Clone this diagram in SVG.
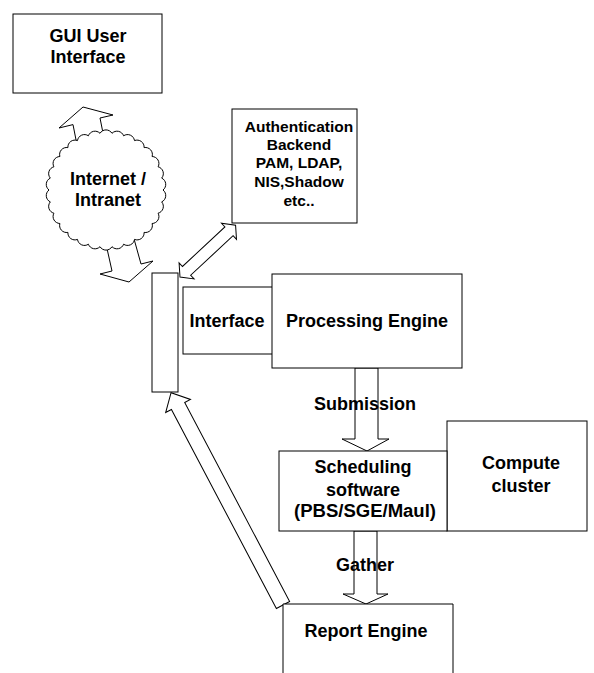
<svg xmlns="http://www.w3.org/2000/svg" width="594" height="673" viewBox="0 0 594 673">
<style>
.box{fill:#fff;stroke:#000;stroke-width:1}
.arr{fill:#fff;stroke:#000;stroke-width:1;stroke-linejoin:miter}
text{font-family:"Liberation Sans",Arial,sans-serif;font-weight:bold;font-size:18px;fill:#000;text-anchor:middle}
.sm{font-size:15.5px}
</style>
<rect width="594" height="673" fill="#fff"/>
<g id="connectors">
<polygon class="arr" points="83,107 113,115 100,118 106,148 79,155 73,124.6 59,128"/>
<polygon class="arr" points="104,235 131,228 141,264 153,261 129,282 100,274 112,271"/>
<polygon class="arr" transform="translate(180,277) rotate(-43)" points="0,0 9,-11 9,-6 67,-6 67,-11 76,0 67,11 67,6 9,6 9,11"/>
<polygon class="arr" transform="translate(283,605) rotate(-117.8)" points="0,-7.5 225,-7.5 225,-14 240,0 225,14 225,7.5 0,7.5"/>
<polygon class="arr" points="355,368 378,368 378,439 389,439 367,451 342,439 355,439"/>
<polygon class="arr" points="354,531 377,531 377,594 388,594 366,604 343,594 354,594"/>
<text x="365" y="410">Submission</text>
<text x="365" y="571">Gather</text>
</g>
<g id="cloud">
<path class="box" d="M163,190 A7,7 0 0 1 161.7,201.9 A7,7 0 0 1 158.1,213.2 A7,7 0 0 1 152.1,223.5 A7,7 0 0 1 144.1,232.4 A7,7 0 0 1 134.5,239.4 A7,7 0 0 1 123.6,244.2 A7,7 0 0 1 112,246.7 A7,7 0 0 1 100,246.7 A7,7 0 0 1 88.4,244.2 A7,7 0 0 1 77.5,239.4 A7,7 0 0 1 67.9,232.4 A7,7 0 0 1 59.9,223.5 A7,7 0 0 1 53.9,213.2 A7,7 0 0 1 50.3,201.9 A7,7 0 0 1 49,190 A7,7 0 0 1 50.3,178.1 A7,7 0 0 1 53.9,166.8 A7,7 0 0 1 59.9,156.5 A7,7 0 0 1 67.9,147.6 A7,7 0 0 1 77.5,140.6 A7,7 0 0 1 88.4,135.8 A7,7 0 0 1 100,133.3 A7,7 0 0 1 112,133.3 A7,7 0 0 1 123.6,135.8 A7,7 0 0 1 134.5,140.6 A7,7 0 0 1 144.1,147.6 A7,7 0 0 1 152.1,156.5 A7,7 0 0 1 158.1,166.8 A7,7 0 0 1 161.7,178.1 A7,7 0 0 1 163,190 Z"/>
<text x="108" y="185">Internet /</text>
<text x="108" y="206">Intranet</text>
</g>
<g id="gui">
<rect class="box" x="13" y="14" width="149" height="79"/>
<text x="88" y="42">GUI User</text>
<text x="88" y="63">Interface</text>
</g>
<g id="auth">
<rect class="box" x="232" y="109" width="125" height="114"/>
<text class="sm" x="299" y="132">Authentication</text>
<text class="sm" x="299" y="150">Backend</text>
<text class="sm" x="299" y="168">PAM, LDAP,</text>
<text class="sm" x="299" y="187">NIS,Shadow</text>
<text class="sm" x="299" y="206">etc..</text>
</g>
<g id="bar">
<rect class="box" x="152" y="273" width="26" height="119"/>
</g>
<g id="interface">
<rect class="box" x="183" y="287" width="90" height="67"/>
<text x="227" y="327">Interface</text>
</g>
<g id="processing">
<rect class="box" x="272" y="274" width="190" height="94"/>
<text x="367" y="327">Processing Engine</text>
</g>
<g id="compute">
<rect class="box" x="447" y="421" width="140" height="110"/>
<text x="521" y="469">Compute</text>
<text x="521" y="492">cluster</text>
</g>
<g id="scheduling">
<rect class="box" x="279" y="451" width="168" height="80"/>
<text x="363" y="473">Scheduling</text>
<text x="363" y="496">software</text>
<text x="365" y="517" textLength="142" lengthAdjust="spacingAndGlyphs">(PBS/SGE/Maul)</text>
</g>
<g id="report">
<path class="box" d="M283,673 V604 H453 V673"/>
<text x="366" y="637">Report Engine</text>
</g>
</svg>
